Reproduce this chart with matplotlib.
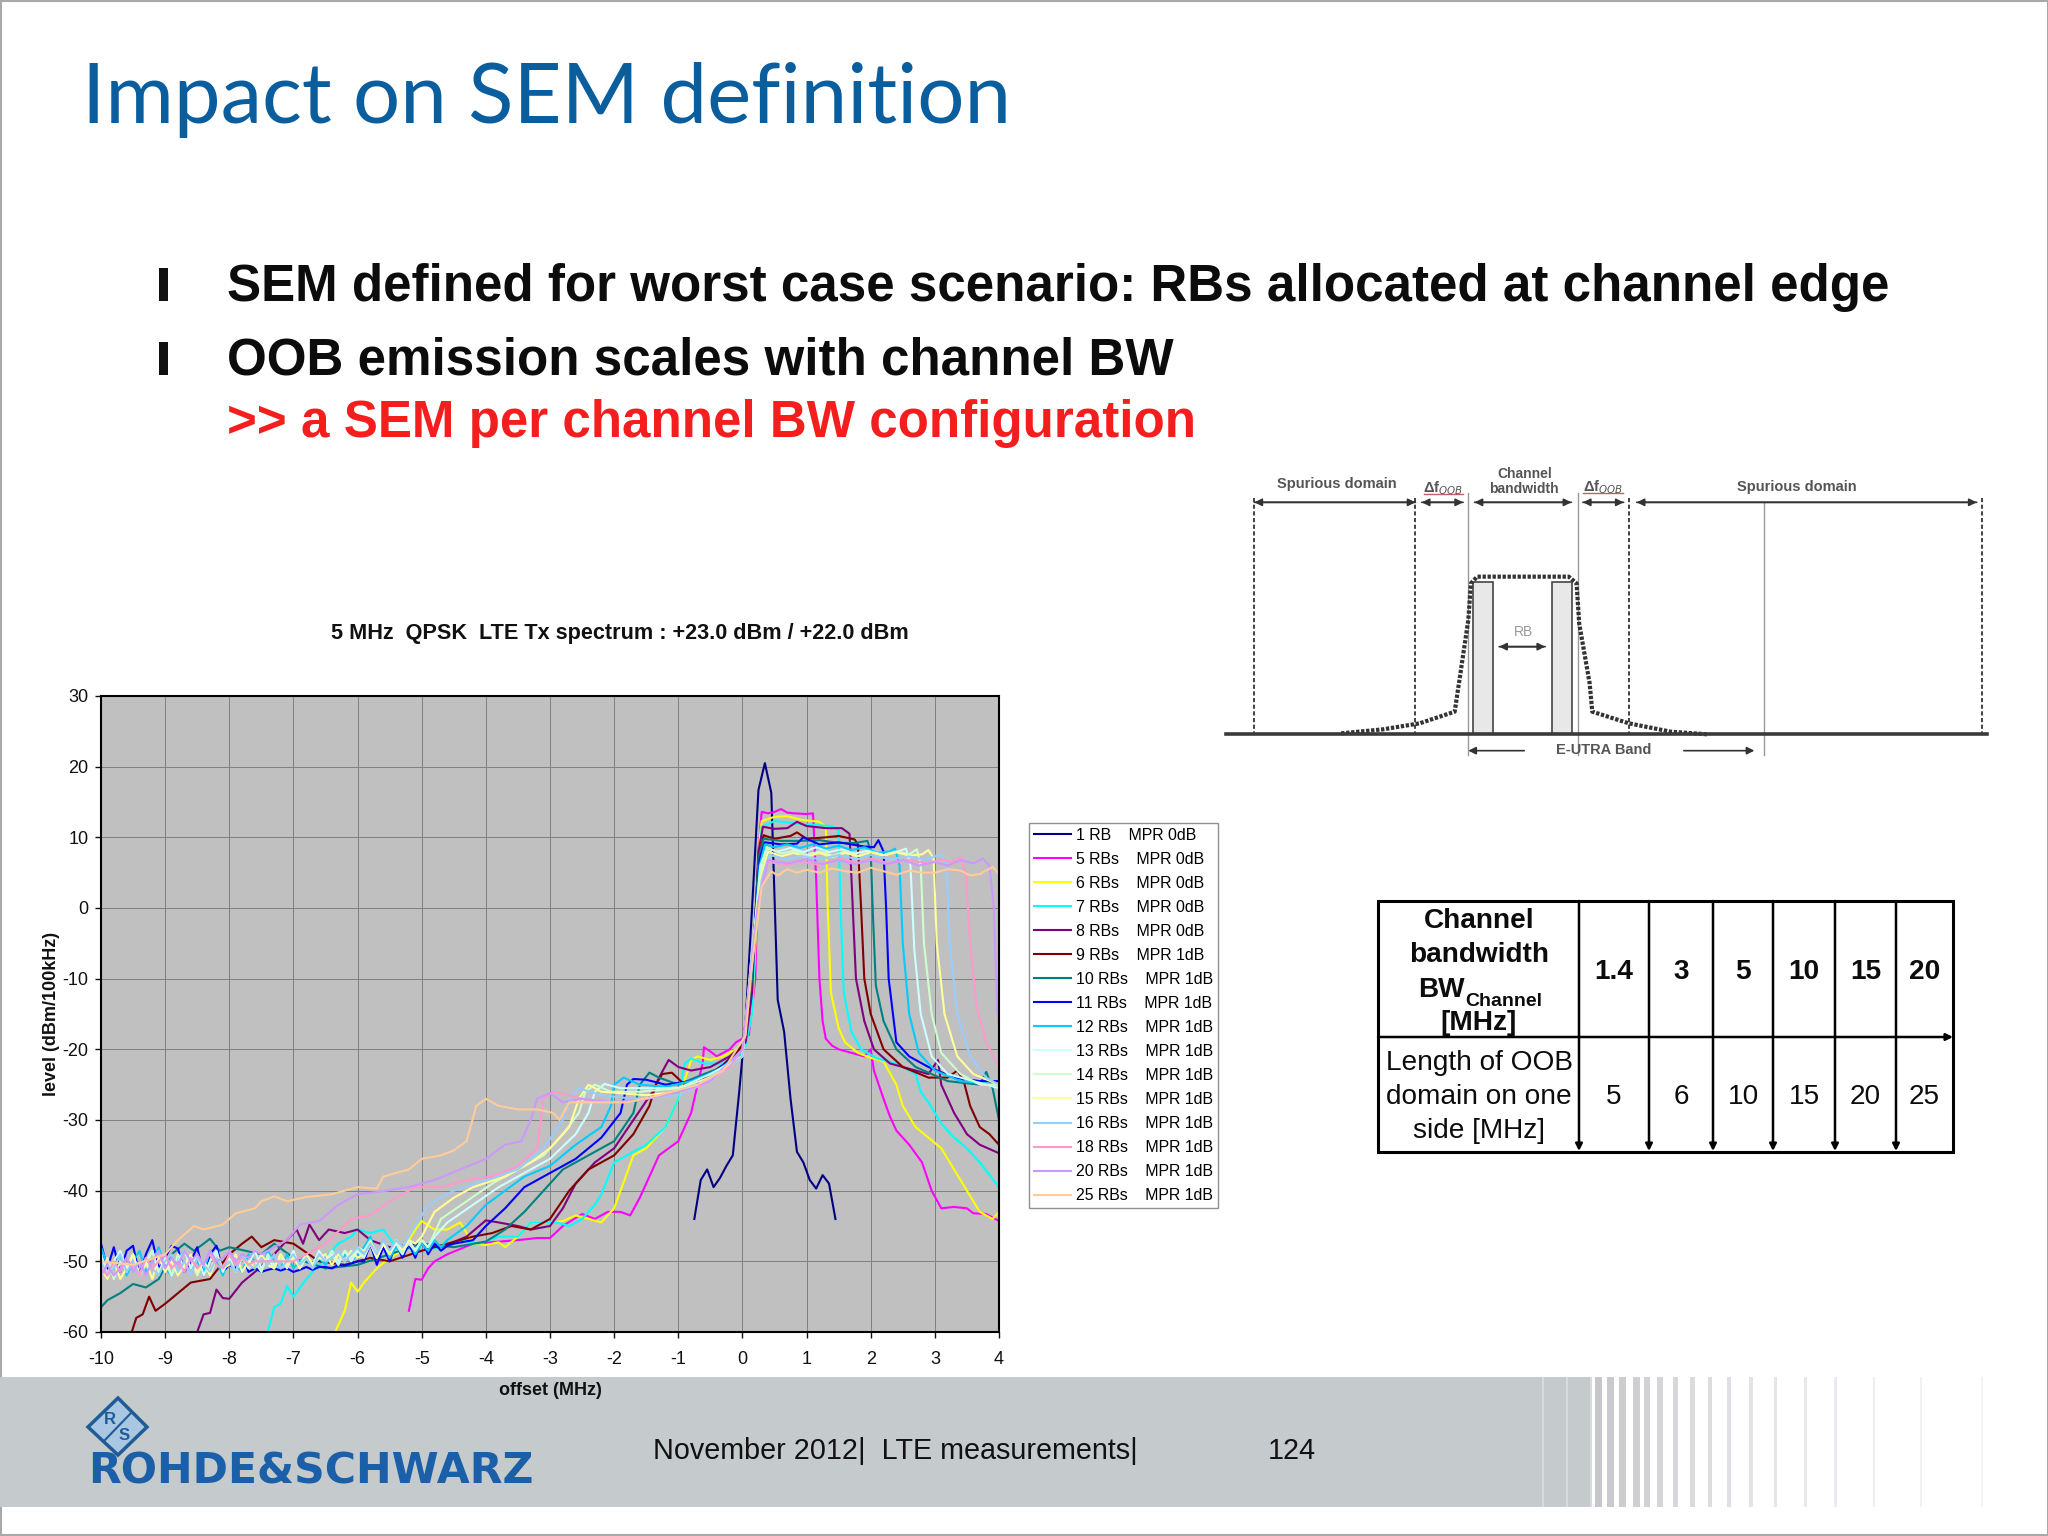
import matplotlib
matplotlib.use('Agg')
import matplotlib.pyplot as plt
from matplotlib.patches import Rectangle, Polygon

plt.rcParams['font.family'] = ['Liberation Sans', 'DejaVu Sans']
plt.rcParams['axes.unicode_minus'] = False

# spectrum traces, level in dBm/100kHz against offset in MHz
noise_x = [-10, -9.9, -9.8, -9.7, -9.6, -9.5, -9.4, -9.3, -9.2, -9.1, -9, -8.9, -8.8, -8.7, -8.6, -8.5, -8.4, -8.3, -8.2, -8.1,
           -8, -7.9, -7.8, -7.7, -7.6, -7.5, -7.4, -7.3, -7.2, -7.1, -7, -6.9, -6.8, -6.7, -6.6, -6.5, -6.4, -6.3, -6.2, -6.1, -6]
jag_x = [-5.9, -5.8, -5.7, -5.6, -5.5, -5.4, -5.3, -5.2, -5.1, -5, -4.9, -4.8, -4.7, -4.6]

rb1_x = [-0.75, -0.65, -0.55, -0.45, -0.35, -0.25, -0.15, -0.05, 0.05, 0.15, 0.25, 0.35, 0.45, 0.55, 0.65, 0.75, 0.85, 0.95, 1.05, 1.15, 1.25, 1.35, 1.45]
rb1_y = [-44, -38.5, -37, -39.5, -38.2, -36.5, -35, -26, -16, 0, 16.7, 20.5, 16.3, -13, -17.5, -27, -34.5, -36, -38.5, -39.7, -37.8, -39, -44]

rb5_x = [-5.2, -5.1, -5, -4.9, -4.8, -4.6, -4.2, -3.5, -3.2, -3, -2.8, -2.5, -2.3, -2.1, -1.9, -1.75, -1.6, -1.4, -1.3, -1, -0.8, -0.7, -0.62, -0.6, -0.5, -0.4, -0.3, -0.2, -0.1, 0, 0.1, 0.2, 0.25, 0.3, 0.4, 0.5, 0.6, 0.7, 0.8, 1, 1.1, 1.15, 1.2, 1.25, 1.3, 1.4, 1.5, 1.7, 1.9, 2, 2.05, 2.2, 2.3, 2.4, 2.6, 2.8, 2.95, 3.1, 3.3, 3.5, 3.6, 3.8, 4]
rb5_y = [-57, -52.5, -52.6, -51, -50, -49, -47.5, -47, -46.7, -46.7, -45, -43.3, -44, -43, -43, -43.5, -41, -37, -35, -33, -29, -25, -22, -19.7, -20.3, -21, -20.5, -20, -19, -18.5, -18, -10, 8, 13.6, 13.4, 13.6, 14, 13.5, 13.4, 13.3, 13.4, 4, -10, -16, -18.5, -19.5, -20, -20.5, -21, -20, -23, -27, -29.5, -31.5, -33.5, -36, -40, -42.5, -42.3, -42.5, -43.2, -43.3, -44.3]

rb6_x = [-6.35, -6.2, -6.1, -6, -5.9, -5.7, -5.5, -5.3, -5.1, -5, -4.8, -4.6, -4.4, -4.2, -4, -3.8, -3.7, -3.5, -3.3, -3, -2.8, -2.6, -2.4, -2.2, -2, -1.9, -1.7, -1.5, -1.2, -1, -0.85, -0.8, -0.7, -0.5, -0.3, -0.1, 0.05, 0.15, 0.22, 0.27, 0.3, 0.5, 0.7, 0.9, 1.2, 1.3, 1.33, 1.38, 1.5, 1.6, 1.8, 2, 2.2, 2.4, 2.5, 2.7, 2.9, 3.1, 3.3, 3.5, 3.7, 3.9, 4]
rb6_y = [-60, -57, -53, -54.3, -53, -51, -49.5, -48.5, -45.5, -44.3, -45.5, -45.5, -44.5, -47.5, -47.7, -47.3, -48, -46.5, -44.5, -44.5, -44.3, -43.5, -44, -44.5, -42.5, -40, -35, -34, -31, -27, -23, -21.5, -21, -21.5, -21, -20, -19, -15, -2, 10, 12.3, 12.9, 13, 12.5, 12.2, 11.5, 0, -12, -17, -19, -20.5, -21.2, -21.7, -25, -28, -31, -32.5, -34, -37, -40, -43, -44, -43]

rb7_x = [-7.4, -7.3, -7.2, -7.1, -7, -6.8, -6.6, -6.3, -6.1, -6, -5.8, -5.6, -5.4, -5.2, -5, -4.7, -4.4, -4.1, -3.8, -3.5, -3.3, -2.9, -2.7, -2.5, -2.3, -2.2, -2, -1.8, -1.5, -1.2, -1, -0.9, -0.8, -0.6, -0.3, -0.1, 0.05, 0.15, 0.22, 0.3, 0.5, 0.8, 1, 1.4, 1.5, 1.53, 1.58, 1.7, 1.85, 2.1, 2.4, 2.7, 2.78, 2.9, 3.1, 3.3, 3.5, 3.7, 4]
rb7_y = [-60, -56.5, -56, -53.5, -55, -52.5, -50.5, -47.5, -46.5, -45.5, -46, -45.5, -48, -47.5, -48.5, -48, -47, -47.5, -46.5, -46.5, -44.5, -44.5, -45, -44, -42, -40.5, -36, -35, -33.5, -31, -27, -22, -21.3, -22, -22, -20.5, -19.5, -15, 0, 11.5, 12.3, 12, 11.8, 11.6, 11, 0, -12, -17.5, -20, -21.3, -22, -23.5, -26, -27.5, -30.5, -32.5, -34, -36, -39.5]

rb8_x = [-8.5, -8.4, -8.3, -8.2, -8.1, -8, -7.8, -7.6, -7.3, -7.1, -6.95, -6.85, -6.75, -6.6, -6.45, -6.2, -6, -5.8, -5.5, -5, -4.7, -4.3, -4, -3.8, -3.5, -3.3, -3, -2.8, -2.6, -2.3, -2, -1.7, -1.4, -1.3, -1.15, -1, -0.8, -0.5, -0.2, 0.05, 0.15, 0.25, 0.32, 0.5, 0.7, 0.85, 1, 1.3, 1.55, 1.67, 1.72, 1.77, 1.9, 2.05, 2.3, 2.7, 2.9, 3.05, 3.1, 3.3, 3.5, 3.7, 4]
rb8_y = [-60, -57.5, -57.3, -54, -55.2, -55.3, -53, -51.5, -49, -47, -45.5, -47.5, -44.8, -47, -45.5, -46, -45.5, -47, -48, -47.5, -48, -46.5, -44.2, -44.5, -45, -45.5, -45, -42.5, -39, -36, -34, -30, -26, -24, -21.5, -22.5, -23, -22.5, -21, -19, -12, 8, 11.5, 11.2, 11.3, 12.2, 11.6, 11.3, 11.3, 10.5, 0, -10, -16, -20, -22, -23, -23.5, -21.5, -25, -29, -32, -33.5, -34.7]

rb9_x = [-9.52, -9.45, -9.35, -9.25, -9.15, -9, -8.8, -8.6, -8.3, -8, -7.8, -7.65, -7.5, -7.3, -7, -6.6, -6.2, -5.8, -5.5, -5, -4.6, -4.2, -3.9, -3.6, -3.3, -3, -2.7, -2.4, -2, -1.7, -1.45, -1.35, -1.25, -1.1, -0.9, -0.6, -0.3, 0, 0.15, 0.25, 0.33, 0.5, 0.75, 0.85, 1, 1.3, 1.5, 1.75, 1.8, 1.85, 1.9, 2, 2.2, 2.5, 2.9, 3.2, 3.35, 3.45, 3.55, 3.7, 3.85, 4]
rb9_y = [-60, -58, -57.5, -55, -57, -56, -54.5, -53, -52.5, -49, -47.5, -46.5, -48, -47, -47.5, -50, -50.5, -49.5, -50, -48.5, -47.5, -46.5, -46, -45, -45.5, -44, -40, -37, -35, -32, -28, -25, -23.5, -23.3, -25, -24, -22.2, -19.5, -10, 7, 10.3, 9.8, 10.2, 10.7, 9.8, 10, 10.2, 9.7, 9, 0, -10, -15, -20, -22.5, -24, -24, -23, -24.5, -28, -31, -32, -33.5]

rb10_x = [-10, -9.9, -9.7, -9.5, -9.3, -9.1, -8.9, -8.7, -8.55, -8.4, -8.3, -8.15, -8, -7.5, -7.3, -7, -6.5, -6, -5.5, -5, -4.5, -4, -3.7, -3.4, -3.1, -2.8, -2.4, -2, -1.7, -1.6, -1.45, -1.3, -1, -0.6, -0.3, 0, 0.15, 0.25, 0.33, 0.6, 0.9, 1.2, 1.5, 1.75, 1.95, 2, 2.03, 2.08, 2.2, 2.4, 2.7, 3.2, 3.7, 3.8, 3.9, 4]
rb10_y = [-56.5, -55.5, -54.5, -53.2, -53.7, -52.5, -49, -47.5, -48.5, -47.5, -46.8, -48.5, -48, -49, -47.5, -49.5, -51, -50.5, -49, -47.5, -48, -47.2, -45.5, -43, -40, -37, -35, -33, -29, -25, -23.3, -24, -25, -23.5, -22.5, -20, -10, 7, 9.8, 9.5, 9.5, 9.6, 9.2, 9.2, 9.5, 8, 0, -11, -16, -20, -22.5, -24.5, -25, -23.2, -25.5, -30]

rb11_noise = [-47.5, -51, -48, -51.5, -48.5, -47.8, -52, -49, -47, -51, -49.5, -47.8, -48.2, -51.5, -50, -48, -52, -49, -47.8, -51.5, -50.5, -51, -49, -51.5, -51, -51.5, -51.2, -51, -51.3, -51, -51.5, -51.2, -50.8, -51.2, -50.8, -50.8, -51, -50.5, -50.6, -50.3, -50,
              -50, -47.5, -50.5, -48, -50, -47.5, -49.5, -47.5, -49.5, -47, -49, -47.5, -48.5, -47.8]
rb11_x = [-4.5, -4.2, -4, -3.7, -3.4, -3, -2.6, -2.2, -1.9, -1.8, -1.7, -1.5, -1.2, -0.8, -0.4, 0, 0.15, 0.27, 0.35, 0.6, 0.85, 0.95, 1.2, 1.5, 1.9, 2.05, 2.12, 2.2, 2.24, 2.28, 2.4, 2.6, 2.9, 3.3, 3.7, 4]
rb11_y = [-47.5, -47, -45, -42.5, -39.5, -37.5, -35.5, -32.5, -29, -25, -24.2, -24.3, -25, -24.5, -23, -20, -8, 7, 9.3, 9, 9.1, 10, 9, 9.3, 8.7, 8.6, 9.6, 8, 0, -10, -19, -21, -22.5, -24, -24.5, -24.5]

rb12_noise = [-48, -50.5, -51, -49, -52, -50, -48.5, -51.5, -50, -48, -51, -52, -49.5, -48.5, -51, -50, -51.5, -48.5, -50, -52, -49, -50.5, -51.5, -49, -50, -51.5, -48.5, -50, -51, -49, -51, -50, -49, -51, -49.5, -50.5, -49, -50.5, -49, -50, -49,
              -48, -46.5, -49.5, -47, -49.5, -48, -49, -47, -49, -47.5, -48.5, -47, -48, -47]
rb12_x = [-4.3, -4, -3.7, -3.4, -3, -2.6, -2.2, -2.05, -2, -1.85, -1.6, -1.2, -0.8, -0.4, 0, 0.15, 0.27, 0.35, 0.5, 0.7, 0.9, 1.1, 1.3, 1.5, 1.7, 1.9, 2.1, 2.3, 2.38, 2.45, 2.5, 2.6, 2.75, 3, 3.4, 4]
rb12_y = [-45, -42, -40, -38, -36.5, -33.5, -31, -28, -25, -24, -25, -25.3, -24.5, -23, -20.5, -8, 6, 9, 8.6, 9, 8.5, 9, 8.4, 8.8, 8.2, 8.6, 7.8, 8, 8.4, 6, -5, -15, -20.5, -23, -24.5, -25]

rb13_noise = [-49, -52, -50, -48.5, -51, -49, -52, -50, -48.5, -51.5, -49.5, -52, -50, -48.5, -51, -49, -52, -50, -48.5, -51.5, -49.5, -51.5, -49, -50.5, -48.5, -51, -49.5, -51, -49, -50.5, -48.5, -51, -49.5, -50.5, -48.5, -50, -49, -50.5, -48.5, -50, -48.5,
              -49.5, -47.5, -49.5, -47.5, -49, -47.5, -49, -47, -48.5, -47, -48, -46.5, -45.5]
rb13_x = [-4.6, -4.2, -3.8, -3.4, -3, -2.6, -2.4, -2.3, -2.15, -1.9, -1.5, -1, -0.5, 0, 0.15, 0.28, 0.38, 0.55, 0.75, 0.95, 1.15, 1.35, 1.55, 1.75, 1.95, 2.2, 2.4, 2.55, 2.62, 2.68, 2.78, 2.95, 3.2, 3.6, 4]
rb13_y = [-44.5, -42, -39.5, -37.5, -35.5, -32, -29, -26, -24.9, -25.5, -25.5, -25.5, -23.5, -21, -7, 6, 8.4, 8, 8.5, 7.9, 8.6, 7.9, 8.3, 7.7, 8.1, 7.5, 7.9, 8.4, 6, -6, -15, -21, -23.5, -24.5, -25.5]

rb14_noise = [-52, -49.5, -52.5, -50, -51.5, -49, -52, -50.5, -48.5, -51.5, -50, -52, -49, -51, -49.5, -52, -50, -51.5, -49, -51, -50, -51.5, -49.5, -51, -50, -51.5, -49, -50.5, -49.5, -51, -49, -50.5, -49, -50.5, -49.5, -50, -48.5, -50, -48.5, -49.5, -48,
              -48.5, -47, -49, -47.5, -49, -47, -48.5, -47.5, -48.5, -47, -48, -46]
rb14_x = [-4.7, -4.3, -3.9, -3.5, -3.1, -2.8, -2.55, -2.45, -2.3, -2.05, -1.6, -1, -0.5, 0, 0.15, 0.28, 0.38, 0.6, 0.8, 1, 1.2, 1.4, 1.6, 1.8, 2, 2.2, 2.4, 2.6, 2.72, 2.78, 2.83, 2.95, 3.1, 3.4, 3.7, 4]
rb14_y = [-44, -41.5, -39, -37, -35, -32, -29, -26, -25, -26, -26, -25.5, -24, -21, -7, 5, 8.6, 7.7, 8.1, 7.5, 8, 7.4, 8, 7.4, 7.9, 7.5, 8, 7.6, 8.3, 6, -5, -15, -20.5, -23.5, -25, -25]

rb15_noise = [-51, -52.5, -50, -52.5, -51, -49, -52, -50, -52.5, -49.5, -51.5, -50, -52, -50.5, -49, -51.5, -50, -52, -49.5, -51, -50.5, -49, -51.5, -50, -51, -49, -50.5, -51, -49, -50.5, -49.5, -51, -49, -50.5, -49.5, -49, -50.5, -49, -50, -48.5, -49.5,
              -49, -47.5, -49.5, -47.5, -49, -47, -48.5, -47, -47.5]
rb15_x = [-5, -4.8, -4.5, -4.2, -3.7, -3.3, -3, -2.7, -2.55, -2.4, -2.2, -1.9, -1.5, -1, -0.5, 0, 0.15, 0.3, 0.4, 0.6, 0.8, 1, 1.2, 1.4, 1.6, 1.8, 2, 2.2, 2.4, 2.6, 2.8, 2.9, 2.98, 3.03, 3.15, 3.35, 3.6, 4]
rb15_y = [-46.5, -43, -41, -39.5, -38, -36, -34, -31, -27, -25, -26, -26.2, -26.5, -26, -24.5, -21, -6, 5, 8, 7.3, 7.8, 7.2, 7.8, 7.2, 7.8, 7.3, 7.9, 7.4, 7.9, 7.4, 7.6, 8.2, 7, -5, -15, -21, -23.5, -25]

rb16_noise = [-50, -52, -51, -49, -51.5, -50, -52, -49.5, -51, -52, -50, -49, -51.5, -50, -52, -49.5, -50.5, -51.5, -49.5, -51, -50, -51.5, -49, -50.5, -51, -49.5, -50.5, -49, -51, -50, -49, -50.5, -49.5, -51, -49, -50, -49.5, -48.5, -50, -49, -48,
              -49, -47.5, -49, -47, -48.5, -47, -48, -46.5]
rb16_x = [-5.1, -4.9, -4.5, -4, -3.5, -3.1, -2.8, -2.7, -2.55, -2.2, -1.7, -1, -0.5, 0, 0.15, 0.3, 0.42, 0.7, 0.9, 1.2, 1.5, 1.8, 2, 2.3, 2.6, 2.85, 3, 3.1, 3.18, 3.23, 3.35, 3.55, 3.8, 4]
rb16_y = [-45, -42, -40, -38.5, -37, -34, -30, -27, -25.5, -26.5, -27, -26.5, -24.5, -21, -6, 4, 7.5, 6.9, 7.4, 6.9, 7.5, 6.9, 7.5, 6.9, 7.3, 6.8, 7.3, 7.6, 6, -5, -15, -21, -24, -25]

rb18_noise = [-51, -52, -50, -51.5, -49.5, -51, -52, -49.5, -51, -50, -49, -51, -50, -51.5, -49.5, -51, -50, -49, -50.5, -51, -49, -50.5, -49.5, -50.5, -50]
rb18_x = [-7.5, -7, -6.5, -6.1, -5.8, -5.5, -5.1, -4.7, -4.3, -3.9, -3.5, -3.2, -3.1, -2.95, -2.7, -2.3, -1.8, -1.2, -0.6, -0.2, 0, 0.1, 0.25, 0.4, 0.7, 0.9, 1.2, 1.5, 1.8, 2, 2.3, 2.6, 2.9, 3.1, 3.25, 3.4, 3.48, 3.55, 3.65, 3.8, 4]
rb18_y = [-50, -50, -47.5, -44, -43.5, -41.5, -39.5, -39.5, -38.5, -38, -36.5, -34, -27, -26, -26.5, -27.5, -27.5, -26.5, -25, -22.5, -20, -12, 1, 6.5, 6.1, 6.6, 6.1, 7, 6.4, 7, 6.3, 6.8, 6.3, 6.9, 6.5, 7.2, 5, -5, -14, -19, -22.5]

rb20_noise = [-52, -50.5, -52, -51, -49.5, -51.5, -50, -52, -50, -48.5, -51, -49.5, -50.5, -48.5, -50, -49, -50.5, -48.5, -50, -49.5, -48.5, -50, -49, -49.5, -48.5]
rb20_x = [-7.5, -7.1, -6.9, -6.6, -6.3, -6, -5.7, -5.2, -4.8, -4.4, -4, -3.7, -3.45, -3.3, -3.2, -3, -2.8, -2.5, -2, -1.5, -1, -0.5, 0, 0.1, 0.25, 0.4, 0.7, 1, 1.25, 1.5, 1.75, 2, 2.25, 2.5, 2.75, 3, 3.2, 3.4, 3.6, 3.75, 3.85, 3.92, 3.97, 4]
rb20_y = [-49, -47, -44.8, -44.3, -42, -40.5, -40.2, -39.5, -38.5, -37, -35.5, -33.5, -33, -30, -27, -26.2, -27.5, -27, -27.5, -27, -26, -24.5, -20, -12, 1, 6.8, 6.3, 6.9, 6.2, 6.8, 6.2, 6.8, 6.2, 6.8, 6, 6.5, 6, 6.8, 6.3, 7, 6, 0, -14, -17]

rb25_x = [-10, -9.5, -9, -8.8, -8.55, -8.4, -8.1, -7.9, -7.6, -7.5, -7.3, -7.1, -6.8, -6.4, -6, -5.7, -5.6, -5.2, -5, -4.7, -4.5, -4.3, -4.15, -4, -3.8, -3.5, -3.2, -2.95, -2.85, -2.7, -2.3, -1.8, -1.3, -0.7, -0.3, 0.05, 0.15, 0.3, 0.45, 0.55, 0.7, 0.85, 1, 1.2, 1.4, 1.6, 1.8, 2, 2.2, 2.4, 2.6, 2.8, 3, 3.2, 3.4, 3.55, 3.7, 3.9, 4]
rb25_y = [-50, -50.5, -49, -47, -45, -45.5, -44.8, -43.2, -42.5, -41.5, -40.8, -41.5, -40.9, -40.5, -39.5, -39.7, -38, -37, -35.5, -35, -34.3, -33, -28, -27, -28, -28.5, -28.5, -29, -30, -27.5, -27.5, -27.5, -26.5, -25, -23, -18, -8, 3, 5.2, 4.6, 5.5, 5, 5.4, 5, 5.6, 5.2, 5, 5.7, 5.2, 4.7, 5.3, 5, 5, 5.5, 5.3, 4.6, 4.8, 5.8, 4.8]

series_x = [rb1_x, rb5_x, rb6_x, rb7_x, rb8_x, rb9_x, rb10_x,
            noise_x + jag_x + rb11_x, noise_x + jag_x + rb12_x, noise_x + jag_x[:13] + rb13_x, noise_x + jag_x[:12] + rb14_x,
            noise_x + jag_x[:9] + rb15_x, noise_x + jag_x[:8] + rb16_x,
            noise_x[:25] + rb18_x, noise_x[:25] + rb20_x, rb25_x]
series_y = [rb1_y, rb5_y, rb6_y, rb7_y, rb8_y, rb9_y, rb10_y,
            rb11_noise + rb11_y, rb12_noise + rb12_y, rb13_noise + rb13_y, rb14_noise + rb14_y, rb15_noise + rb15_y, rb16_noise + rb16_y,
            rb18_noise + rb18_y, rb20_noise + rb20_y, rb25_y]
series_names = ['1 RB    MPR 0dB', '5 RBs    MPR 0dB', '6 RBs    MPR 0dB', '7 RBs    MPR 0dB', '8 RBs    MPR 0dB', '9 RBs    MPR 1dB',
                '10 RBs    MPR 1dB', '11 RBs    MPR 1dB', '12 RBs    MPR 1dB', '13 RBs    MPR 1dB', '14 RBs    MPR 1dB', '15 RBs    MPR 1dB',
                '16 RBs    MPR 1dB', '18 RBs    MPR 1dB', '20 RBs    MPR 1dB', '25 RBs    MPR 1dB']
series_colors = ['#000080', '#FF00FF', '#FFFF00', '#00FFFF', '#800080', '#800000', '#008080', '#0000FF',
                 '#00CCFF', '#CCFFFF', '#CCFFCC', '#FFFF99', '#99CCFF', '#FF99CC', '#CC99FF', '#FFCC99']

x_ticks = [-10, -9, -8, -7, -6, -5, -4, -3, -2, -1, 0, 1, 2, 3, 4]
y_ticks = [-60, -50, -40, -30, -20, -10, 0, 10, 20, 30]

# table
table_cols = ['1.4', '3', '5', '10', '15', '20']
table_vals = ['5', '6', '10', '15', '20', '25']

W, H = 2048, 1536
fig = plt.figure(figsize=(W / 100, H / 100), dpi=100, facecolor='white')

# slide layer in pixels
bg = fig.add_axes([0, 0, 1, 1])
bg.set_xlim(0, W)
bg.set_ylim(H, 0)
bg.axis('off')

bg.add_patch(Rectangle((0.5, 0.5), W - 1, H - 2, fc='white', ec='#a8a8a8', lw=1.5))

title_blue = '#0A5E9E'
bg.text(82, 100, 'Impact on SEM definition', color=title_blue, fontsize=60, va='center', ha='left', family='Lato')

bg.add_patch(Rectangle((159, 268), 9, 33, fc='#111111', ec='none'))
bg.add_patch(Rectangle((159, 342), 9, 33, fc='#111111', ec='none'))
bg.text(227, 287, 'SEM defined for worst case scenario: RBs allocated at channel edge', fontsize=36.85, fontweight='bold',
        color='#0c0c0c', va='center')
bg.text(227, 361, 'OOB emission scales with channel BW', fontsize=36.85, fontweight='bold', color='#0c0c0c', va='center')
bg.text(227, 423, '>> a SEM per channel BW configuration', fontsize=36.85, fontweight='bold', color='#F51E1E', va='center')

# footer band and fading stripes
band = '#C5CBCD'
bg.add_patch(Rectangle((0, 1377), 1592, 130, fc=band, ec='none'))
for sx in [1542, 1566, 1590]:
    bg.add_patch(Rectangle((sx, 1377), 1.6, 130, fc='#D6DBDC', ec='none'))
stripes = [1595, 1607, 1619, 1633, 1644, 1657, 1673, 1690, 1708, 1727, 1749, 1774, 1804, 1834, 1873, 1920, 1981]
stripe_w = [7, 7, 7, 6.5, 6, 6, 5, 4.5, 4, 4, 3.5, 3, 2.5, 2.5, 2, 2, 1.5]
for k, sx in enumerate(stripes):
    shade = 0.78 + 0.011 * k
    bg.add_patch(Rectangle((sx, 1377), stripe_w[k], 130, fc=(shade, shade, shade + 0.015), ec='none'))

bg.add_patch(Polygon([(118, 1398), (147, 1427), (118, 1455), (88, 1427)], closed=True, fc='#A9C6E2', ec='#1F5C97', lw=2.5))
bg.plot([104, 132], [1441, 1412], color='#1F5C97', lw=1.5)
bg.text(110, 1420, 'R', fontsize=12, color='#1F5C97', ha='center', va='center', fontweight='bold')
bg.text(124, 1436, 'S', fontsize=12, color='#1F5C97', ha='center', va='center', fontweight='bold')
bg.text(88, 1472, 'ROHDE&SCHWARZ', fontsize=30.7, fontweight='bold', color='#1A5FA8', va='center', family='DejaVu Sans')

bg.text(653, 1451, 'November 2012|  LTE measurements|', fontsize=20.7, color='#111111', va='center')
bg.text(1268, 1451, '124', fontsize=20.7, color='#111111', va='center')

# chart title
bg.text(620, 634, '5 MHz  QPSK  LTE Tx spectrum : +23.0 dBm / +22.0 dBm', fontsize=15.6, fontweight='bold',
        color='#111111', ha='center', va='center')


# E-UTRA diagram, placed from its own crop coordinates
def dx(v):
    return 1200 + v / 1.912


def dy(v):
    return 450 + v / 3


def arrow(x0, x1, y, color='#333333', lw=1.2):
    bg.annotate('', xy=(dx(x1), dy(y)), xytext=(dx(x0), dy(y)),
                arrowprops=dict(arrowstyle='-|>', color=color, lw=lw, shrinkA=0, shrinkB=0, mutation_scale=11))


for zx in [104, 412, 820, 1496]:
    bg.plot([dx(zx), dx(zx)], [dy(145), dy(853)], color='#222222', lw=1.2, ls=(0, (2.5, 1.5)))
for zx, top in [(513, 130), (723, 130), (1078, 160)]:
    bg.plot([dx(zx), dx(zx)], [dy(top), dy(915)], color='#999999', lw=1)
for zx in [522, 673]:
    bg.add_patch(Rectangle((dx(zx), dy(397)), 39 / 1.912, 456 / 3, fc='#E8E8E8', ec='#444444', lw=1.2))
mask_x = [270, 350, 420, 487, 497, 513, 518, 530, 705, 720, 725, 745, 750, 820, 900, 970]
mask_y = [850, 838, 820, 785, 680, 510, 400, 380, 380, 400, 520, 700, 785, 820, 845, 853]
bg.plot([dx(v) for v in mask_x], [dy(v) for v in mask_y], color='#333333', lw=3, ls=(0, (0.8, 0.4)))
bg.plot([dx(50), dx(1505)], [dy(853), dy(853)], color='#3a3a3a', lw=2.6)

for a, b in [(104, 412), (424, 503), (525, 710), (732, 810), (835, 1485)]:
    arrow(a, b, 157)
    arrow(b, a, 157)
arrow(572, 660, 590)
arrow(660, 572, 590)
arrow(620, 513, 902)
arrow(925, 1060, 902)

grey_text = '#555555'
bg.text(dx(262), dy(103), 'Spurious domain', fontsize=10.5, fontweight='bold', color=grey_text, ha='center', va='center')
bg.text(dx(1142), dy(112), 'Spurious domain', fontsize=10.5, fontweight='bold', color=grey_text, ha='center', va='center')
bg.text(dx(620), dy(72), 'Channel', fontsize=10, fontweight='bold', color=grey_text, ha='center', va='center')
bg.text(dx(620), dy(118), 'bandwidth', fontsize=10, fontweight='bold', color=grey_text, ha='center', va='center')
bg.text(dx(465), dy(113), '\u0394f$_{OOB}$', fontsize=10.5, fontweight='bold', color=grey_text, ha='center', va='center')
bg.text(dx(770), dy(110), '\u0394f$_{OOB}$', fontsize=10.5, fontweight='bold', color=grey_text, ha='center', va='center')
bg.plot([dx(428), dx(503)], [dy(132), dy(132)], color='#C06060', lw=1)
bg.plot([dx(733), dx(808)], [dy(130), dy(130)], color='#C06060', lw=1)
bg.text(dx(618), dy(545), 'RB', fontsize=10, color='#999999', ha='center', va='center')
bg.text(dx(772), dy(900), 'E-UTRA Band', fontsize=10.5, fontweight='bold', color=grey_text, ha='center', va='center')

# OOB table
col_edges = [1378, 1579, 1649, 1713, 1773, 1835, 1896, 1953]
table_top, table_mid, table_bot = 901, 1037, 1152
bg.add_patch(Rectangle((col_edges[0], table_top), col_edges[-1] - col_edges[0], table_bot - table_top, fc='white', ec='black', lw=2.2))
for cx in col_edges[1:-1]:
    bg.annotate('', xy=(cx, table_bot - 1), xytext=(cx, table_top),
                arrowprops=dict(arrowstyle='-|>', color='black', lw=1.8, shrinkA=0, shrinkB=0, mutation_scale=10))
bg.annotate('', xy=(col_edges[-1], table_mid), xytext=(col_edges[0], table_mid),
            arrowprops=dict(arrowstyle='-|>', color='black', lw=1.8, shrinkA=0, shrinkB=0, mutation_scale=10))

head_x = 1479
bg.text(head_x, 921, 'Channel', fontsize=20.2, fontweight='bold', ha='center', va='center', color='#0c0c0c')
bg.text(head_x, 955, 'bandwidth', fontsize=20.2, fontweight='bold', ha='center', va='center', color='#0c0c0c')
bg.text(1465, 990, 'BW', fontsize=20.2, fontweight='bold', ha='right', va='center', color='#0c0c0c')
bg.text(1465, 1002, 'Channel', fontsize=14, fontweight='bold', ha='left', va='center', color='#0c0c0c')
bg.text(head_x, 1023, '[MHz]', fontsize=20.2, fontweight='bold', ha='center', va='center', color='#0c0c0c')
bg.text(head_x, 1063, 'Length of OOB', fontsize=20.2, ha='center', va='center', color='#0c0c0c')
bg.text(head_x, 1097, 'domain on one', fontsize=20.2, ha='center', va='center', color='#0c0c0c')
bg.text(head_x, 1131, 'side [MHz]', fontsize=20.2, ha='center', va='center', color='#0c0c0c')
for i in range(6):
    cx = (col_edges[i + 1] + col_edges[i + 2]) / 2
    bg.text(cx, 972, table_cols[i], fontsize=20.2, fontweight='bold', ha='center', va='center', color='#0c0c0c')
    bg.text(cx, 1097, table_vals[i], fontsize=20.2, ha='center', va='center', color='#0c0c0c')

# spectrum chart
ax = fig.add_axes([101 / W, 1 - 1332 / H, 898 / W, 636 / H], facecolor='#C0C0C0')
lines = []
for i in range(len(series_x)):
    l, = ax.plot(series_x[i], series_y[i], color=series_colors[i], lw=1.5, label=series_names[i])
    lines.append(l)
ax.set_xlim(-10, 4)
ax.set_ylim(-60, 30)
ax.set_xticks(x_ticks)
ax.set_yticks(y_ticks)
ax.grid(True, color='#808080', lw=0.7)
ax.set_axisbelow(True)
ax.tick_params(labelsize=13, length=4, width=1, colors='#111111')
ax.tick_params(axis='x', pad=9.5)
ax.tick_params(axis='y', pad=5)
for s in ax.spines.values():
    s.set_linewidth(1.5)
    s.set_color('black')
ax.set_xlabel('offset (MHz)', fontsize=13, fontweight='bold', labelpad=10, color='#111111')
ax.set_ylabel('level (dBm/100kHz)', fontsize=13, fontweight='bold', labelpad=2, color='#111111')

leg = ax.legend(handles=lines, loc='upper left', bbox_to_anchor=(1029 / W, 1 - 823 / H), bbox_transform=fig.transFigure,
                fontsize=11.4, frameon=True, fancybox=False, edgecolor='#909090', facecolor='white', framealpha=1,
                handlelength=2.35, handletextpad=0.3, labelspacing=0.57, borderaxespad=0, borderpad=0.3)
leg.get_frame().set_linewidth(1)

fig.savefig('out.png', dpi=100)
